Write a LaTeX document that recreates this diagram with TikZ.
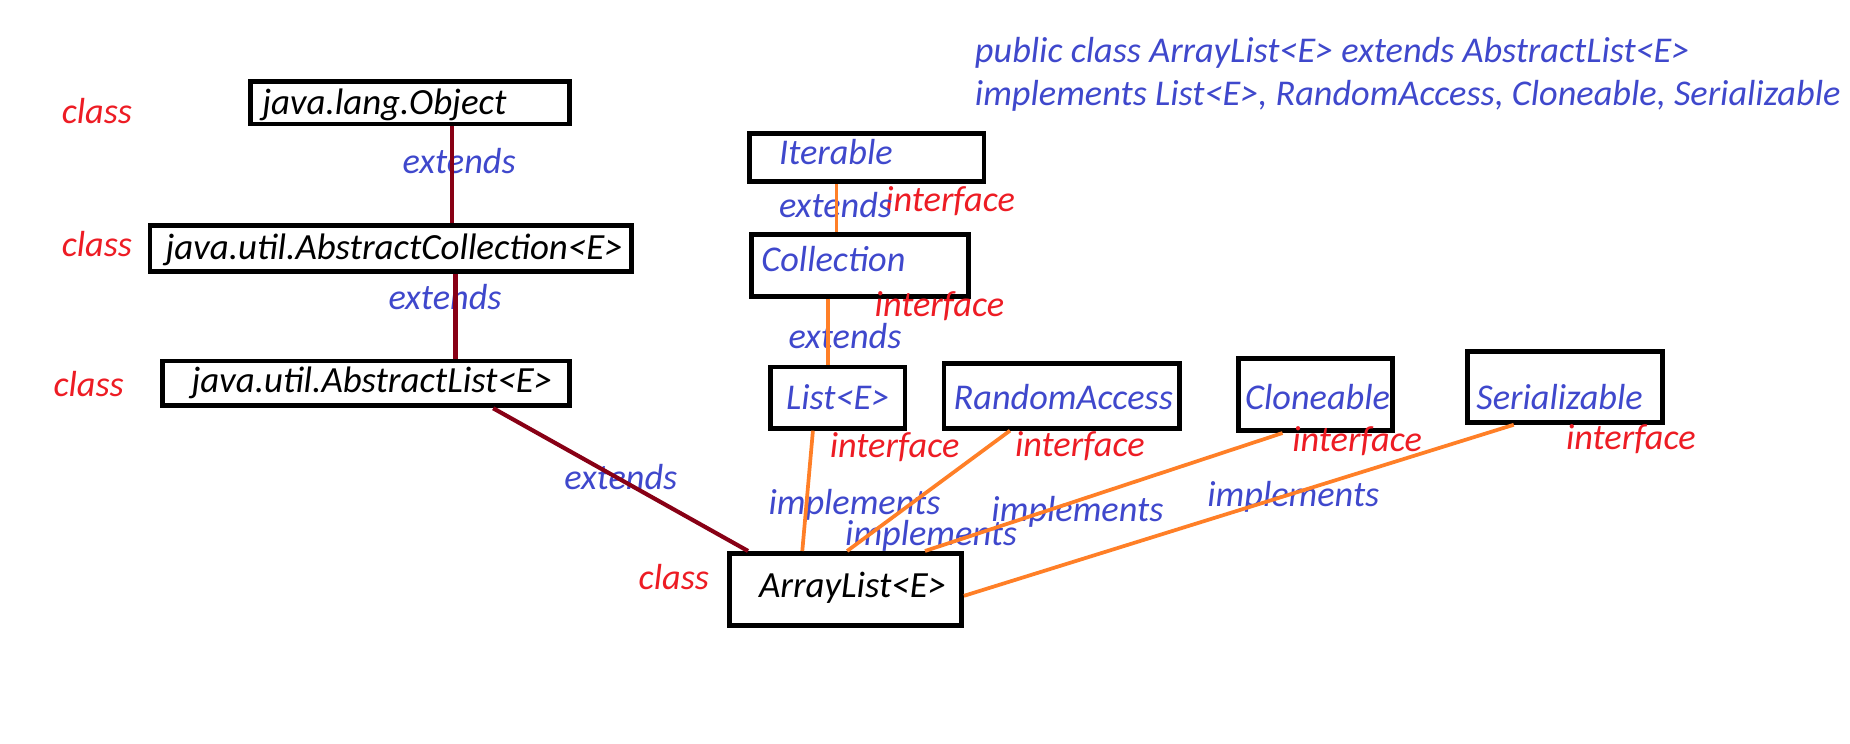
\documentclass[tikz,border=0pt]{standalone}
\usepackage{fontspec}
\setmainfont{Carlito}
\definecolor{kindred}{HTML}{ED1C24}
\definecolor{relblue}{HTML}{3F48CC}
\definecolor{implorange}{HTML}{FF7F27}
\definecolor{extmaroon}{HTML}{880015}

\begin{document}
\begin{tikzpicture}[x=0.02cm,y=-0.02cm,box/.style={draw=black,line width=2.3pt,inner sep=0pt},txt/.style={inner sep=0pt,anchor=base west,font=\itshape\fontsize{17.5}{21}\selectfont},cname/.style={txt,font=\itshape\fontsize{17.8}{21}\selectfont},kind/.style={txt,text=kindred},rel/.style={txt,text=relblue},extline/.style={draw=extmaroon,line width=2pt},impline/.style={draw=implorange,line width=1.8pt}]
\useasboundingbox (0,0) rectangle (1568,630);
\node[rel] (sig1) at (826,53) {public class ArrayList<E> extends AbstractList<E>};
\node[rel] (sig2) at (826,89) {implements List<E>, RandomAccess, Cloneable, Serializable};
\node[box,minimum width=5.42cm,minimum height=0.72cm] (obj) at (347.5,87) {};
\node[box,minimum width=8.16cm,minimum height=0.78cm] (acol) at (331,210.5) {};
\node[box,minimum width=6.90cm,minimum height=0.76cm] (absl) at (310.5,325) {};
\node[box,minimum width=3.94cm,minimum height=1.22cm] (alist) at (716.5,499.5) {};
\node[box,minimum width=3.98cm,minimum height=0.82cm] (iter) at (734.5,133.5) {};
\node[box,minimum width=3.68cm,minimum height=1.04cm] (coll) at (729,225) {};
\node[box,minimum width=2.28cm,minimum height=1.04cm] (list) at (710,337) {};
\node[box,minimum width=4.00cm,minimum height=1.10cm] (rand) at (900,335.5) {};
\node[box,minimum width=2.60cm,minimum height=1.22cm] (clon) at (1115,334.5) {};
\node[box,minimum width=3.30cm,minimum height=1.20cm] (ser) at (1326.5,328) {};
\node[cname] (objname) at (222,97) {java.lang.Object};
\node[cname] (acolname) at (140,220) {java.util.AbstractCollection<E>};
\node[cname] (abslname) at (162,333) {java.util.AbstractList<E>};
\node[cname] (alistname) at (643,506) {ArrayList<E>};
\node[rel] (itername) at (660,139) {Iterable};
\node[rel] (collname) at (645,230) {Collection};
\node[rel] (listname) at (666,347) {List<E>};
\node[rel] (randname) at (808,347) {RandomAccess};
\node[rel] (clonname) at (1055,347) {Cloneable};
\node[rel] (sername) at (1251,347) {Serializable};
\node[kind] (objkind) at (52,105) {class};
\node[kind] (acolkind) at (52,217) {class};
\node[kind] (abslkind) at (45,336) {class};
\node[kind] (alistkind) at (541,500) {class};
\node[kind] (iterkind) at (750,179) {interface};
\node[kind] (collkind) at (741,268) {interface};
\node[kind] (listkind) at (703,388) {interface};
\node[kind] (randkind) at (860,387) {interface};
\node[kind] (clonkind) at (1095,383) {interface};
\node[kind] (serkind) at (1327,381) {interface};
\node[rel] (ext1) at (341,147) {extends};
\node[rel] (ext2) at (329,262) {extends};
\node[rel] (ext3) at (478,415) {extends};
\node[rel] (ext4) at (660,184) {extends};
\node[rel] (ext5) at (668,295) {extends};
\node[rel] (imp1) at (651,436) {implements};
\node[rel] (imp2) at (716,462) {implements};
\node[rel] (imp3) at (840,442) {implements};
\node[rel] (imp4) at (1023,429) {implements};
\draw[extline] (obj.south -| 383,0) -- (acol.north -| 383,0);
\draw[extline] (acol.south -| 386,0) -- (absl.north -| 386,0);
\draw[extline] (absl.south -| 418,0) -- (alist.north -| 634,0);
\draw[impline] (iter.south -| 709,0) -- (coll.north -| 709,0);
\draw[impline] (coll.south -| 702,0) -- (list.north -| 702,0);
\draw[impline] (list.south -| 689,0) -- (alist.north -| 680,0);
\draw[impline] (rand.south -| 856,0) -- (alist.north -| 718,0);
\draw[impline] (clon.south -| 1087,0) -- (alist.north -| 784,0);
\draw[impline] (ser.south -| 1283,0) -- (alist.east |- 0,505);
\end{tikzpicture}
\end{document}
